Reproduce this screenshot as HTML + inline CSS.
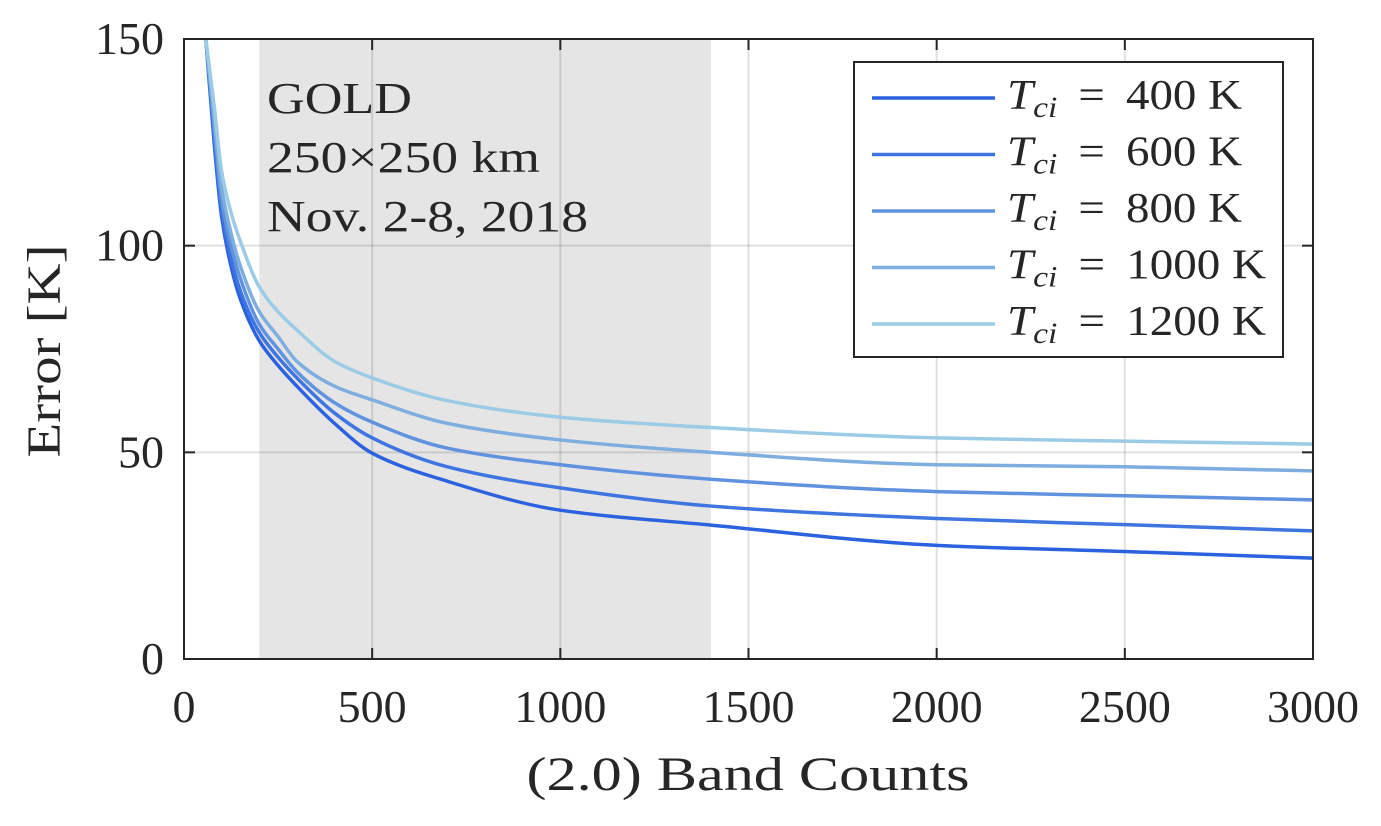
<!DOCTYPE html>
<html><head><meta charset="utf-8"><style>
body{margin:0;background:#fff;}
svg text{font-family:"Liberation Serif",serif;fill:#262626;}
</style></head><body>
<svg width="1381" height="821" viewBox="0 0 1381 821">
<g id="plot"></g>
</svg>
<script>
const xs=[58,80,100,125,150,200,250,300,400,500,700,1000,1400,2000,2500,3000];
const s400=[150,125,107,95,87,77,71,66,57,49.8,43,36,32.4,27.5,26,24.4];
const s600=[150,127,109,97,89,79,73,68,59.5,53.5,46.5,41.4,37,34,32.5,31];
const s800=[150,129,111,100,92,81,75,69.5,62,57.3,51,47,43.5,40.5,39.5,38.5];
const s1000=[150,131,114,103,95,84,78,72,66,62.7,57,53,50,47,46.5,45.5];
const s1200=[150,134,118,108,101,90,84,79.6,72,68,62.5,58.5,56,53.5,52.7,52];
const seriesLabels=["400","600","800","1000","1200"];
const colors=["#2c62e0","#3f75e0","#6093df","#7eaedf","#9ccbe6"];
const xTicks=[0,500,1000,1500,2000,2500,3000];
const yTicks=[0,50,100,150];
const X=v=>184+v*(1313-184)/3000, Y=v=>659-v*(659-39)/150;
const NS="http://www.w3.org/2000/svg", g=document.getElementById('plot');
function mk(t,a,p){const e=document.createElementNS(NS,t);for(const k in a)e.setAttribute(k,a[k]);(p||g).appendChild(e);return e;}
function monotonePath(px,py){
 const n=px.length,dx=[],m=[],t=[];
 for(let i=0;i<n-1;i++){dx[i]=px[i+1]-px[i];m[i]=(py[i+1]-py[i])/dx[i];}
 t[0]=m[0];t[n-1]=m[n-2];
 for(let i=1;i<n-1;i++){if(m[i-1]*m[i]<=0)t[i]=0;else{const w1=2*dx[i]+dx[i-1],w2=dx[i]+2*dx[i-1];t[i]=(w1+w2)/(w1/m[i-1]+w2/m[i]);}}
 let d='M'+px[0]+','+py[0];
 for(let i=0;i<n-1;i++){const h=dx[i]/3;d+=` C${px[i]+h},${py[i]+t[i]*h} ${px[i+1]-h},${py[i+1]-t[i+1]*h} ${px[i+1]},${py[i+1]}`;}
 return d;}
let e=mk('rect',{x:X(200),y:39,width:X(1400)-X(200),height:620,fill:'#e5e5e5'});


xTicks.forEach(t=>{let l=mk('line',{x1:X(t),x2:X(t),y1:39,y2:659,stroke:'#000','stroke-opacity':0.12,'stroke-width':2});


let tk=mk('text',{x:X(t),y:722,'font-size':46,'text-anchor':'middle'});tk.textContent=t;


mk('line',{x1:X(t),x2:X(t),y1:659,y2:648,stroke:'#262626','stroke-width':2});mk('line',{x1:X(t),x2:X(t),y1:39,y2:50,stroke:'#262626','stroke-width':2});});
yTicks.forEach(t=>{let l=mk('line',{x1:184,x2:1313,y1:Y(t),y2:Y(t),stroke:'#000','stroke-opacity':0.12,'stroke-width':2});


let tk=mk('text',{x:164,y:Y(t)+15,'font-size':46,'text-anchor':'end'});tk.textContent=t;


mk('line',{x1:184,x2:195,y1:Y(t),y2:Y(t),stroke:'#262626','stroke-width':2});mk('line',{x1:1313,x2:1302,y1:Y(t),y2:Y(t),stroke:'#262626','stroke-width':2});});
[s400,s600,s800,s1000,s1200].forEach((s,i)=>{
 let p=mk('path',{d:monotonePath(xs.map(X),s.map(Y)),fill:'none',stroke:colors[i],'stroke-width':3.5});
 
 
});
let fr=mk('rect',{x:184,y:39,width:1129,height:620,fill:'none',stroke:'#262626','stroke-width':2});


const ann=[["GOLD",145],["250×250 km",273],["Nov.  2-8, 2018",321]];
ann.forEach((a,i)=>{let t=mk('text',{x:267,y:113+i*59,'font-size':44,textLength:a[1],lengthAdjust:'spacingAndGlyphs'});t.textContent=a[0];

});
let lb=mk('rect',{x:854,y:62,width:429,height:295,fill:'#fff',stroke:'#262626','stroke-width':2});


seriesLabels.forEach((s,i)=>{const y=98+i*56.5;
 let l=mk('line',{x1:872,x2:995,y1:y,y2:y,stroke:colors[i],'stroke-width':3.5});
 
 
 let t=mk('text',{x:1007,y:y+11,'font-size':42,textLength:s.length>3?259:235,lengthAdjust:'spacingAndGlyphs'});
 t.innerHTML=`<tspan font-style="italic">T</tspan><tspan font-style="italic" font-size="30" dy="8">ci</tspan><tspan dy="-8"> \u2009=\u2009 ${s} K</tspan>`;
 
 });
let xl=mk('text',{x:748,y:790,'font-size':48,'text-anchor':'middle',textLength:443,lengthAdjust:'spacingAndGlyphs'});xl.textContent='(2.0) Band Counts';


let yl=mk('text',{x:0,y:0,'font-size':48,'text-anchor':'middle',textLength:213,lengthAdjust:'spacingAndGlyphs',transform:'translate(60,351) rotate(-90)'});yl.textContent='Error [K]';


</script>
</body></html>
